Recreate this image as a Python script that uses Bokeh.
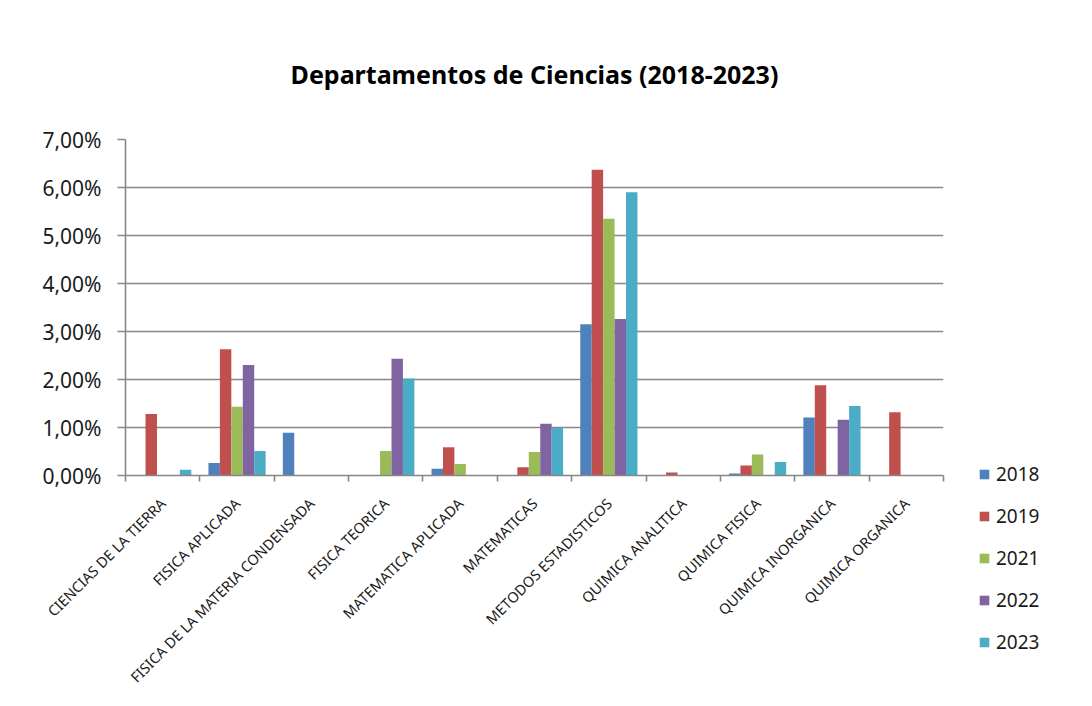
import math
from bokeh.plotting import figure
from bokeh.models import FixedTicker, Legend, LegendItem, Range1d
from bokeh.embed import file_html
from bokeh.resources import INLINE

categories = [
    "CIENCIAS DE LA TIERRA",
    "FISICA APLICADA",
    "FISICA DE LA MATERIA CONDENSADA",
    "FISICA TEORICA",
    "MATEMATICA APLICADA",
    "MATEMATICAS",
    "METODOS ESTADISTICOS",
    "QUIMICA ANALITICA",
    "QUIMICA FISICA",
    "QUIMICA INORGANICA",
    "QUIMICA ORGANICA",
]
years = ["2018", "2019", "2021", "2022", "2023"]
v2018 = [0.00, 0.26, 0.89, 0.00, 0.14, 0.00, 3.15, 0.00, 0.04, 1.21, 0.00]
v2019 = [1.28, 2.63, 0.00, 0.00, 0.59, 0.17, 6.37, 0.06, 0.21, 1.88, 1.32]
v2021 = [0.00, 1.43, 0.00, 0.51, 0.24, 0.49, 5.35, 0.00, 0.44, 0.00, 0.00]
v2022 = [0.00, 2.30, 0.00, 2.43, 0.00, 1.08, 3.26, 0.00, 0.00, 1.16, 0.00]
v2023 = [0.12, 0.51, 0.00, 2.02, 0.00, 0.99, 5.90, 0.00, 0.28, 1.45, 0.00]
series = [v2018, v2019, v2021, v2022, v2023]
colors = ["#4F81BD", "#C0504D", "#9BBB59", "#8064A2", "#4BACC6"]
y_ticks = [0, 1, 2, 3, 4, 5, 6, 7]
y_tick_labels = ["0,00%", "1,00%", "2,00%", "3,00%", "4,00%", "5,00%", "6,00%", "7,00%"]

FONT = "Noto Sans"
GRID = "#878787"

n = len(categories)
p = figure(
    frame_width=818, frame_height=336,
    min_border_left=125, min_border_right=141,
    min_border_top=139, min_border_bottom=215,
    x_range=Range1d(0, n), y_range=Range1d(0, 7),
    output_backend="svg", toolbar_location=None,
    background_fill_color="white", border_fill_color="white",
)
p.outline_line_color = None

p.title.text = "Departamentos de Ciencias (2018-2023)"
p.title.text_font = FONT
p.title.text_font_style = "bold"
p.title.text_font_size = "25px"
p.title.text_color = "#000000"
p.title.align = "center"
p.title.standoff = 97

bw = 1.0 / 6.5
centers = [i + 0.5 for i in range(n)]
renderers = []
for k, (vals, col) in enumerate(zip(series, colors)):
    xs = [c + (k - 2) * bw for c in centers]
    r = p.vbar(x=xs, top=vals, width=bw, bottom=0,
               fill_color=col, line_color=None)
    renderers.append(r)

# y axis
yt = FixedTicker(ticks=y_ticks)
p.yaxis.ticker = yt
p.yaxis.major_label_overrides = {t: l for t, l in zip(y_ticks, y_tick_labels)}
p.yaxis.major_label_text_font = FONT
p.yaxis.major_label_text_font_size = "21px"
p.yaxis.major_label_text_color = "#1a1a1a"
p.yaxis.axis_line_color = GRID
p.yaxis.axis_line_width = 1.6
p.yaxis.major_tick_line_color = GRID
p.yaxis.major_tick_line_width = 1.6
p.yaxis.major_tick_in = 0
p.yaxis.major_tick_out = 8
p.yaxis.minor_tick_line_color = None
p.yaxis.major_label_standoff = 16

p.ygrid.ticker = yt
p.ygrid.grid_line_color = GRID
p.ygrid.grid_line_width = 1.6
p.xgrid.grid_line_color = None

# x axis
xt = FixedTicker(ticks=centers, minor_ticks=list(range(n + 1)))
p.xaxis.ticker = xt
p.xaxis.major_label_overrides = {c: name for c, name in zip(centers, categories)}
p.xaxis.major_label_orientation = math.pi / 4
p.xaxis.major_label_text_font = FONT
p.xaxis.major_label_text_font_size = "14.5px"
p.xaxis.major_label_text_color = "#1a1a1a"
p.xaxis.axis_line_color = GRID
p.xaxis.axis_line_width = 1.6
p.xaxis.major_tick_line_color = None
p.xaxis.minor_tick_line_color = GRID
p.xaxis.minor_tick_line_width = 1.6
p.xaxis.minor_tick_in = 0
p.xaxis.minor_tick_out = 6
p.xaxis.major_label_standoff = 19

legend = Legend(
    items=[LegendItem(label=y, renderers=[r]) for y, r in zip(years, renderers)],
    location=(35, -180),
    orientation="vertical",
    glyph_width=12, glyph_height=12,
    label_text_font=FONT, label_text_font_size="19px", label_text_color="#1a1a1a",
    label_height=19, label_standoff=6,
    spacing=16, padding=0, margin=0,
    border_line_color=None, background_fill_alpha=0,
)
p.add_layout(legend, "right")

open("out.html", "w").write(file_html(p, INLINE))
